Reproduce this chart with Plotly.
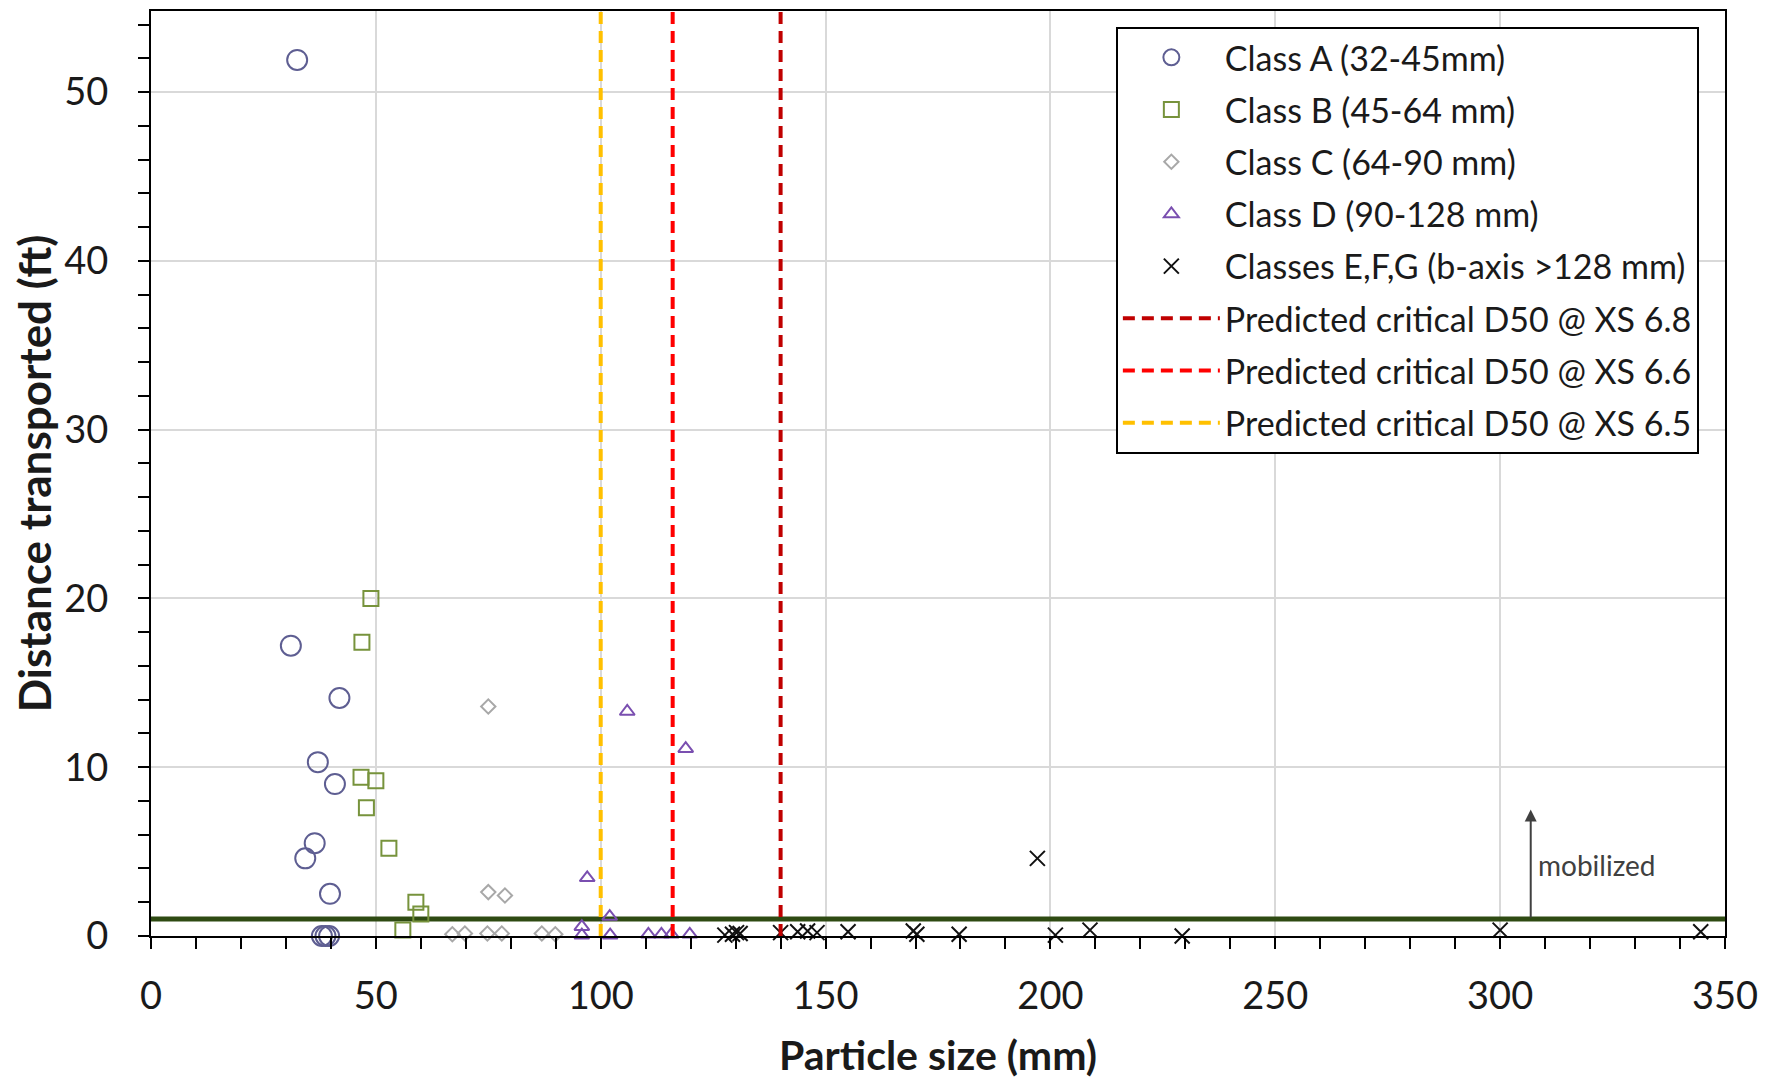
import plotly.graph_objects as go

# ---- data ----
classA_x = [32.5, 31.1, 41.9, 37.1, 40.9, 36.4, 34.3, 39.8, 38.0, 38.8, 39.6]
classA_y = [51.9, 17.2, 14.1, 10.3, 9.0, 5.5, 4.6, 2.5, 0.0, 0.0, 0.0]

classB_x = [48.9, 46.9, 46.7, 50.0, 47.9, 52.9, 58.9, 60.0, 56.0]
classB_y = [20.0, 17.4, 9.4, 9.2, 7.6, 5.2, 2.0, 1.3, 0.35]

classC_x = [75.0, 75.0, 78.7, 67.0, 69.8, 74.8, 78.0, 86.9, 89.9]
classC_y = [13.6, 2.6, 2.4, 0.1, 0.15, 0.15, 0.15, 0.15, 0.1]

classD_x = [105.9, 118.9, 97.0, 102.0, 95.8, 95.8, 99.0, 102.1, 110.6, 113.5, 115.7, 119.8]
classD_y = [13.3, 11.1, 3.45, 1.15, 0.55, 0.05, -0.1, 0.05, 0.1, 0.1, 0.1, 0.1]

classEFG_x = [127.6, 129.3, 130.2, 131.0, 140.0, 143.8, 146.0, 148.1, 155.0, 169.5, 170.3,
              179.7, 197.1, 201.1, 208.8, 229.3, 289.8, 300.0, 344.6]
classEFG_y = [0.05, 0.1, 0.2, 0.15, 0.2, 0.25, 0.3, 0.2, 0.25, 0.3, 0.1,
              0.1, 4.6, 0.05, 0.35, 0.0, -0.05, 0.35, 0.25]

critical_names = ["Predicted critical D50 @ XS 6.8",
                  "Predicted critical D50 @ XS 6.6",
                  "Predicted critical D50 @ XS 6.5"]
critical_d50 = [140.0, 116.0, 100.0]
critical_colors = ["#C00000", "#FF0000", "#FFC000"]

mobilized_threshold_x = [0, 350]
mobilized_threshold_y = [1.0, 1.0]

x_range = [0, 350]
y_range = [0, 54.8]

FONT = "Lato"

fig = go.Figure()

fig.add_trace(go.Scatter(
    x=mobilized_threshold_x, y=mobilized_threshold_y, mode="lines",
    line=dict(color="#2E4A12", width=5), showlegend=False, hoverinfo="skip"))

marker_specs = [
    ("Class A (32-45mm)", classA_x, classA_y, "circle-open", 20, "#5E5E92"),
    ("Class B (45-64 mm)", classB_x, classB_y, "square-open", 15, "#77933C"),
    ("Class C (64-90 mm)", classC_x, classC_y, "diamond-open", 11, "#A8A8A8"),
    ("Class D (90-128 mm)", classD_x, classD_y, "triangle-up-open", 13, "#7A4FB0"),
    ("Classes E,F,G (b-axis >128 mm)", classEFG_x, classEFG_y, "x-thin-open", 15, "#111111"),
]
for i, (name, xs, ys, sym, sz, col) in enumerate(marker_specs):
    fig.add_trace(go.Scatter(
        x=xs, y=ys, mode="markers", name=name, legendgroup=f"g{i}",
        marker=dict(symbol=sym, size=sz, color=col, line=dict(color=col, width=2)),
        cliponaxis=False))

for j, (name, xv, col) in enumerate(zip(critical_names, critical_d50, critical_colors)):
    fig.add_trace(go.Scatter(
        x=[xv, xv], y=y_range, mode="lines", name=name, legendgroup=f"l{j}",
        line=dict(color=col, width=4, dash="12px,7px")))

fig.add_annotation(x=306.8, y=7.5, ax=306.8, ay=1.0, xref="x", yref="y",
                   axref="x", ayref="y", showarrow=True, arrowhead=2,
                   arrowsize=1.2, arrowwidth=2, arrowcolor="#404040", text="")
fig.add_annotation(x=308.0, y=4.2, xref="x", yref="y", text="mobilized",
                   showarrow=False, xanchor="left", yanchor="middle",
                   font=dict(family=FONT, size=28, color="#404040"))

fig.update_layout(
    width=1775, height=1077,
    margin=dict(l=143, r=58, t=3, b=149),
    paper_bgcolor="white", plot_bgcolor="white",
    font=dict(family=FONT, color="#1A1A1A"),
    legend=dict(x=0.613, y=0.983, xanchor="left", yanchor="top",
                bgcolor="white", bordercolor="black", borderwidth=2,
                font=dict(family=FONT, size=34, color="#1A1A1A"),
                itemsizing="trace", itemwidth=97, tracegroupgap=5,
                traceorder="grouped"),
)

fig.update_xaxes(
    range=x_range, dtick=50, tick0=0, automargin=False,
    showline=True, linecolor="black", linewidth=2, mirror=True,
    showgrid=True, gridcolor="#D9D9D9", gridwidth=2, zeroline=False,
    ticks="outside", ticklen=11, tickwidth=2, tickcolor="black",
    ticklabelstandoff=14,
    minor=dict(dtick=10, ticks="outside", ticklen=11, tickwidth=2, tickcolor="black", showgrid=False),
    tickfont=dict(family=FONT, size=38, color="#1A1A1A"),
    title=dict(text="<b>Particle size (mm)</b>", font=dict(family=FONT, size=41, color="#1A1A1A"), standoff=26),
)
fig.update_yaxes(
    range=y_range, dtick=10, tick0=0, automargin=False,
    showline=True, linecolor="black", linewidth=2, mirror=True,
    showgrid=True, gridcolor="#D9D9D9", gridwidth=2, zeroline=False,
    ticks="outside", ticklen=11, tickwidth=2, tickcolor="black",
    ticklabelstandoff=22,
    minor=dict(dtick=2, ticks="outside", ticklen=11, tickwidth=2, tickcolor="black", showgrid=False),
    tickfont=dict(family=FONT, size=38, color="#1A1A1A"),
    title=dict(text="<b>Distance transported (ft)</b>", font=dict(family=FONT, size=44, color="#1A1A1A"), standoff=12),
)

fig.write_html("out.html")
